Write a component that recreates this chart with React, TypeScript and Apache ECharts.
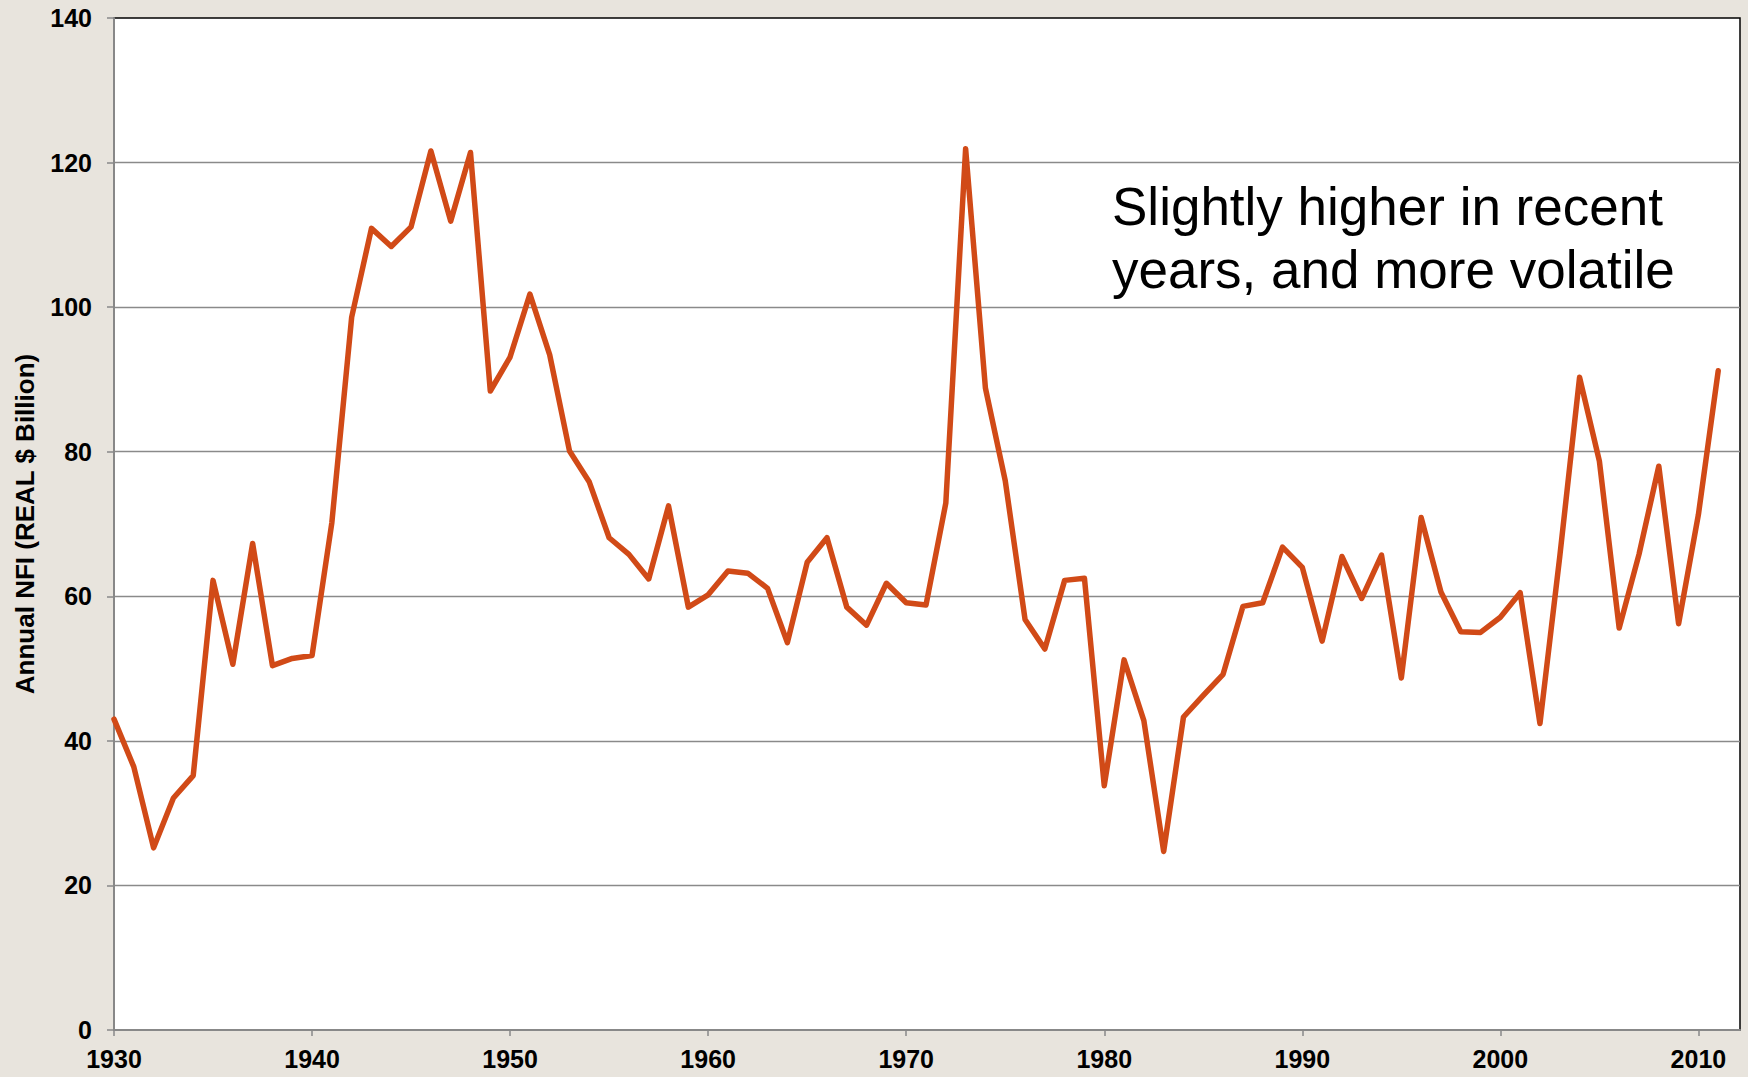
import React, { useEffect, useRef } from "react";
import * as echarts from "echarts";

const years: number[] = [
  1930, 1931, 1932, 1933, 1934, 1935, 1936, 1937, 1938, 1939,
  1940, 1941, 1942, 1943, 1944, 1945, 1946, 1947, 1948, 1949,
  1950, 1951, 1952, 1953, 1954, 1955, 1956, 1957, 1958, 1959,
  1960, 1961, 1962, 1963, 1964, 1965, 1966, 1967, 1968, 1969,
  1970, 1971, 1972, 1973, 1974, 1975, 1976, 1977, 1978, 1979,
  1980, 1981, 1982, 1983, 1984, 1985, 1986, 1987, 1988, 1989,
  1990, 1991, 1992, 1993, 1994, 1995, 1996, 1997, 1998, 1999,
  2000, 2001, 2002, 2003, 2004, 2005, 2006, 2007, 2008, 2009,
  2010, 2011,
];

const nfiValues: number[] = [
  43.0, 36.4, 25.2, 32.1, 35.2, 62.2, 50.6, 67.3, 50.4, 51.4,
  51.8, 70.2, 98.6, 110.9, 108.4, 111.1, 121.6, 111.9, 121.4, 88.4,
  93.1, 101.8, 93.4, 80.1, 75.8, 68.1, 65.8, 62.4, 72.5, 58.5,
  60.2, 63.5, 63.2, 61.1, 53.6, 64.7, 68.1, 58.5, 56.0, 61.8,
  59.1, 58.8, 72.9, 121.9, 88.8, 76.0, 56.8, 52.7, 62.2, 62.5,
  33.8, 51.2, 42.8, 24.7, 43.3, 46.3, 49.2, 58.6, 59.1, 66.8,
  64.0, 53.8, 65.5, 59.7, 65.7, 48.7, 70.9, 60.6, 55.1, 55.0,
  57.1, 60.5, 42.4, 65.5, 90.3, 78.7, 55.6, 65.8, 78.0, 56.2,
  71.3, 91.2,
];

const xTickValues: number[] = [1930, 1940, 1950, 1960, 1970, 1980, 1990, 2000, 2010];
const yAxisTitle = "Annual NFI (REAL $ Billion)";
const noteLines: string[] = ["Slightly higher in recent", "years, and more volatile"];

const FONT = '"Liberation Sans", Arial, Helvetica, sans-serif';

export default function App() {
  const ref = useRef<HTMLDivElement>(null);

  useEffect(() => {
    document.body.style.margin = "0";
    if (!ref.current) return;
    const chart = echarts.init(ref.current, undefined, { renderer: "svg" });
    const data = years.map((y, i) => [y, nfiValues[i]]);
    chart.setOption({
      animation: false,
      backgroundColor: "#E8E4DD",
      textStyle: { fontFamily: FONT },
      grid: {
        left: 114,
        right: 8,
        top: 18,
        bottom: 47,
        show: true,
        backgroundColor: "#FFFFFF",
        borderColor: "#000000",
        borderWidth: 1.5,
      },
      xAxis: {
        type: "value",
        min: 1930,
        max: 2012.1,
        interval: 10,
        splitLine: { show: false },
        axisLine: { show: true, lineStyle: { color: "#888888", width: 2 } },
        axisTick: {
          show: true,
          length: 6,
          customValues: xTickValues,
          lineStyle: { color: "#888888", width: 1.5 },
        },
        axisLabel: {
          customValues: xTickValues,
          formatter: (v: number) => String(v),
          fontSize: 25,
          fontWeight: "bold",
          color: "#000000",
          fontFamily: FONT,
          margin: 16,
        },
      },
      yAxis: {
        type: "value",
        min: 0,
        max: 140,
        interval: 20,
        name: yAxisTitle,
        nameLocation: "middle",
        nameGap: 76,
        nameTextStyle: {
          fontSize: 26,
          fontWeight: "bold",
          color: "#000000",
          fontFamily: FONT,
        },
        axisLine: { show: true, lineStyle: { color: "#888888", width: 2 } },
        axisTick: { show: true, length: 7, lineStyle: { color: "#888888", width: 1.5 } },
        axisLabel: {
          fontSize: 25,
          fontWeight: "bold",
          color: "#000000",
          fontFamily: FONT,
          margin: 22,
        },
        splitLine: {
          show: true,
          showMinLine: false,
          showMaxLine: false,
          lineStyle: { color: "#8A8A8A", width: 1.3 },
        },
      },
      series: [
        {
          type: "line",
          data,
          symbol: "none",
          clip: true,
          lineStyle: { color: "#D14A17", width: 5.5, cap: "round", join: "round" },
        },
      ],
      graphic: noteLines.map((t, i) => ({
        type: "text",
        x: 1112,
        y: 206 + i * 63,
        z: 100,
        style: {
          text: t,
          fontSize: 53,
          fontFamily: FONT,
          fill: "#000000",
          align: "left",
          verticalAlign: "middle",
        },
      })),
    });
    return () => chart.dispose();
  }, []);

  return <div ref={ref} style={{ width: 1748, height: 1077 }} />;
}
